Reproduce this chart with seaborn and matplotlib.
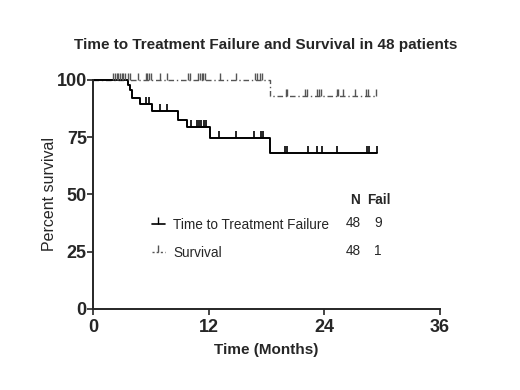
import numpy as np
import pandas as pd
import matplotlib.pyplot as plt
from matplotlib.lines import Line2D
import seaborn as sns

# Kaplan-Meier steps (months, percent)
ttf_times = [0, 3.6, 3.8, 4.0, 4.9, 6.15, 8.85, 9.8, 12.1, 18.4, 29.5]
ttf_surv = [100, 97.9, 95.8, 92.0, 89.4, 86.6, 82.5, 79.6, 74.8, 68.0, 68.0]
ttf_cens = [5.5, 5.85, 6.95, 7.7, 10.2, 10.75, 11.0, 11.15, 11.5, 11.7,
            13.1, 14.8, 16.7, 17.4, 17.6, 19.9, 20.1, 22.3, 23.2, 23.75,
            25.3, 28.45, 28.6, 29.5]

os_times = [0, 18.4, 29.5]
os_surv = [100, 92.9, 92.9]
os_cens = [2.04, 2.28, 2.46, 2.62, 2.8, 2.97, 3.14, 3.32, 3.6, 3.84, 4.64,
           5.5, 5.63, 5.84, 5.98, 6.95, 7.7, 9.89, 10.06, 10.9, 11.1, 11.27,
           11.44, 11.6, 13.17, 14.8, 16.8, 16.98, 17.3, 17.5,
           20.0, 20.15, 22.0, 22.2, 23.2, 23.4, 23.7, 25.3, 25.45, 25.95,
           27.2, 28.3, 28.55, 29.4]

groups = ['Time to Treatment Failure', 'Survival']
n_pat = [48, 48]
n_fail = [9, 1]


def level_at(times, surv, t):
    idx = np.searchsorted(times, t, side='right') - 1
    return np.asarray(surv)[idx]


ttf = pd.DataFrame({'Time': ttf_times, 'Percent': ttf_surv})
osd = pd.DataFrame({'Time': os_times, 'Percent': os_surv})

sns.set_style('ticks')
plt.rcParams['font.family'] = ['Liberation Sans', 'DejaVu Sans']

fig = plt.figure(figsize=(5.2, 3.9), dpi=100)
ax = fig.add_axes([0.179, 0.208, 0.667, 0.587])

os_ls = (0, (4, 2, 1, 2))
sns.lineplot(data=osd, x='Time', y='Percent', ax=ax, color='#555555', lw=1.0,
             drawstyle='steps-post', linestyle=os_ls, clip_on=False, sort=False)
sns.lineplot(data=ttf, x='Time', y='Percent', ax=ax, color='black', lw=1.4,
             drawstyle='steps-post', clip_on=False, sort=False)

ax.plot(os_cens, level_at(os_times, os_surv, os_cens), linestyle='none',
        marker=2, markersize=5, markeredgewidth=1.0, color='#555555', clip_on=False)
ax.plot(ttf_cens, level_at(ttf_times, ttf_surv, ttf_cens), linestyle='none',
        marker=2, markersize=5, markeredgewidth=1.2, color='black', clip_on=False)

ax.set_xlim(0, 36)
ax.set_ylim(0, 100)
ax.set_xticks([0, 12, 24, 36])
ax.set_yticks([0, 25, 50, 75, 100])
sns.despine(ax=ax)
for s in ['left', 'bottom']:
    ax.spines[s].set_linewidth(1.4)
ax.tick_params(axis='both', length=4, width=1.2, labelsize=13)
ax.tick_params(axis='x', pad=3)
ax.tick_params(axis='y', pad=0.5)
for lab in ax.get_xticklabels() + ax.get_yticklabels():
    lab.set_fontweight('bold')

ax.set_xlabel('Time (Months)', fontsize=11, fontweight='bold', labelpad=5)
ax.set_ylabel('Percent survival', fontsize=11.5, labelpad=0)
fig.suptitle('Time to Treatment Failure and Survival in 48 patients',
             fontsize=11, fontweight='bold', x=0.51, y=1 - 45 / 390, va='center')

handles = [Line2D([], [], color='black', lw=1.2, marker=2, markersize=5),
           Line2D([], [], color='#555555', lw=1.0, linestyle=(0, (1.5, 1.5)),
                  marker=2, markersize=5)]
ax.legend(handles, groups, loc='upper left', bbox_to_anchor=(0.154, 0.42),
          frameon=False, fontsize=9.8, handlelength=0.95, handletextpad=0.6,
          labelspacing=1.0, borderaxespad=0)

fig.text(355 / 520, 1 - 200 / 390, 'N', fontsize=9.8, fontweight='bold', ha='center', va='center')
fig.text(379 / 520, 1 - 200 / 390, 'Fail', fontsize=9.8, fontweight='bold', ha='center', va='center')
for i in range(2):
    y = 1 - (223 + 28 * i) / 390
    fig.text(353 / 520, y, str(n_pat[i]), fontsize=9.8, ha='center', va='center')
    fig.text(378 / 520, y, str(n_fail[i]), fontsize=9.8, ha='center', va='center')

fig.savefig('out.png', dpi=100)
